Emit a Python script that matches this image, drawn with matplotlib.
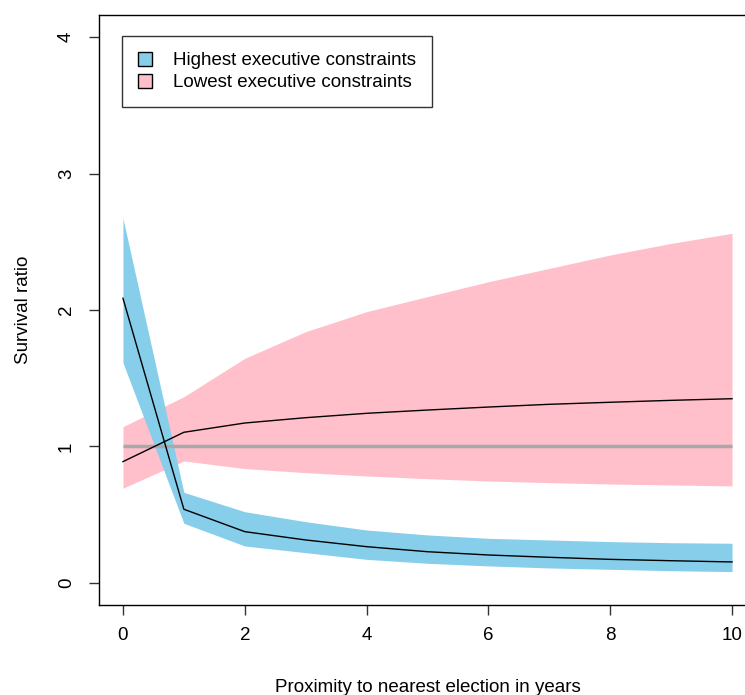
import matplotlib
matplotlib.use("Agg")
import matplotlib.pyplot as plt
from matplotlib.patches import Patch

plt.rcParams['font.family'] = ['Liberation Sans', 'DejaVu Sans']

years = [0, 1, 2, 3, 4, 5, 6, 7, 8, 9, 10]

high_mid = [2.086, 0.540, 0.376, 0.315, 0.266, 0.229, 0.205, 0.188, 0.173, 0.163, 0.154]
high_upper = [2.672, 0.664, 0.522, 0.449, 0.388, 0.352, 0.327, 0.315, 0.303, 0.295, 0.291]
high_lower = [1.614, 0.437, 0.271, 0.222, 0.173, 0.144, 0.125, 0.110, 0.100, 0.090, 0.083]

low_mid = [0.889, 1.104, 1.172, 1.211, 1.243, 1.267, 1.289, 1.309, 1.324, 1.338, 1.350]
low_upper = [1.145, 1.365, 1.646, 1.841, 1.988, 2.098, 2.207, 2.305, 2.403, 2.488, 2.562]
low_lower = [0.694, 0.894, 0.838, 0.808, 0.784, 0.764, 0.747, 0.735, 0.725, 0.718, 0.711]

labels = ["Highest executive constraints", "Lowest executive constraints"]
colors = ["#87CEEB", "#FFC0CB"]

FS = 13.5
W, H = 745, 695
fig = plt.figure(figsize=(W / 100, H / 100), dpi=100)
ax_l, ax_r, ax_t, ax_b = 98.6, 756.4, 15.2, 604.8
ax = fig.add_axes([ax_l / W, (H - ax_b) / H, (ax_r - ax_l) / W, (ax_b - ax_t) / H])

ax.fill_between(years, low_lower, low_upper, color=colors[1], linewidth=0)
ax.fill_between(years, high_lower, high_upper, color=colors[0], linewidth=0)
ax.plot([years[0], years[-1]], [1, 1], color="#A9A9A9", linewidth=2.5, solid_capstyle="butt")
ax.plot(years, high_mid, color="black", linewidth=1)
ax.plot(years, low_mid, color="black", linewidth=1)

ax.set_xlim(-0.4, 10.4)
ax.set_ylim(-0.16, 4.16)
ax.set_xticks([0, 2, 4, 6, 8, 10])
ax.set_yticks([0, 1, 2, 3, 4])
ax.set_yticklabels(["0", "1", "2", "3", "4"], rotation=90, va="center")
ax.tick_params(axis="both", labelsize=FS, length=7, width=1, color="#333333")
ax.tick_params(axis="x", pad=9)
ax.tick_params(axis="y", pad=10)
for s in ax.spines.values():
    s.set_linewidth(1)
    s.set_color("black")

ax.set_xlabel("Proximity to nearest election in years", fontsize=FS, labelpad=25)
ax.set_ylabel("Survival ratio", fontsize=FS, labelpad=19)

handles = [Patch(facecolor=c, edgecolor="black", linewidth=1) for c in colors]
aw, ah = ax_r - ax_l, ax_b - ax_t
leg = ax.legend(handles, labels, loc="upper left",
                bbox_to_anchor=((122 - ax_l) / aw, 1 - (36 - ax_t) / ah),
                bbox_transform=ax.transAxes, borderaxespad=0, fontsize=FS, frameon=True, fancybox=False,
                handlelength=0.75, handleheight=0.75, handletextpad=1.1, borderpad=0.85, labelspacing=0.25)
leg.get_frame().set_edgecolor("black")
leg.get_frame().set_linewidth(1)

fig.savefig("out.png", dpi=100)
